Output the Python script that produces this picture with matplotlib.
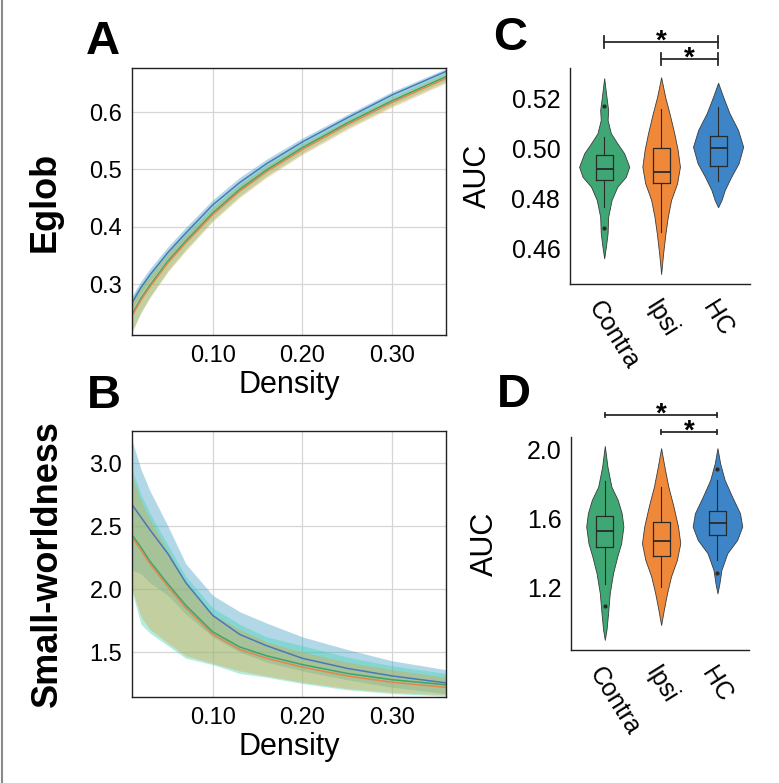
import matplotlib
matplotlib.use('Agg')
import matplotlib.pyplot as plt
import numpy as np
from matplotlib.lines import Line2D

plt.rcParams['font.family'] = ['Liberation Sans', 'DejaVu Sans']

# colours per group
groups = ['Contra', 'Ipsi', 'HC']
fill_colors = ['#3fa774', '#f0883a', '#3d85c6']
line_colors = ['#3aa66e', '#e8854a', '#4a78b8']
band_colors = ['#3fd4b4', '#d9a441', '#3f9fc4']

# ---- panel A / B curves (density vs metric) ----
density = [0.01, 0.02, 0.03, 0.05, 0.07, 0.10, 0.13, 0.16, 0.20, 0.25, 0.30, 0.36]

eglob_mean = {
    'Contra': [0.247, 0.275, 0.298, 0.340, 0.375, 0.424, 0.465, 0.499, 0.538, 0.581, 0.620, 0.662],
    'Ipsi':   [0.244, 0.272, 0.295, 0.337, 0.372, 0.421, 0.462, 0.496, 0.535, 0.578, 0.617, 0.659],
    'HC':     [0.267, 0.294, 0.316, 0.355, 0.389, 0.438, 0.477, 0.510, 0.548, 0.590, 0.630, 0.671],
}
eglob_sd = {
    'Contra': [0.030, 0.024, 0.020, 0.016, 0.014, 0.012, 0.011, 0.010, 0.009, 0.008, 0.008, 0.008],
    'Ipsi':   [0.028, 0.022, 0.019, 0.016, 0.014, 0.012, 0.011, 0.010, 0.009, 0.008, 0.008, 0.008],
    'HC':     [0.012, 0.011, 0.011, 0.010, 0.010, 0.009, 0.009, 0.008, 0.007, 0.006, 0.006, 0.005],
}

sw_mean = {
    'Contra': [2.43, 2.33, 2.22, 2.04, 1.87, 1.66, 1.54, 1.47, 1.40, 1.33, 1.28, 1.24],
    'Ipsi':   [2.41, 2.31, 2.20, 2.02, 1.85, 1.64, 1.52, 1.45, 1.38, 1.31, 1.26, 1.22],
    'HC':     [2.67, 2.57, 2.47, 2.28, 2.05, 1.79, 1.64, 1.55, 1.45, 1.37, 1.31, 1.255],
}
sw_upper = {
    'Contra': [2.95, 2.75, 2.60, 2.35, 2.10, 1.85, 1.72, 1.62, 1.55, 1.46, 1.39, 1.33],
    'Ipsi':   [2.90, 2.70, 2.55, 2.30, 2.05, 1.80, 1.68, 1.58, 1.50, 1.42, 1.36, 1.30],
    'HC':     [3.18, 2.95, 2.78, 2.50, 2.20, 1.95, 1.82, 1.73, 1.62, 1.52, 1.43, 1.36],
}
sw_lower = {
    'Contra': [1.98, 1.72, 1.65, 1.55, 1.45, 1.40, 1.33, 1.30, 1.25, 1.20, 1.17, 1.15],
    'Ipsi':   [2.00, 1.78, 1.68, 1.57, 1.47, 1.41, 1.35, 1.31, 1.26, 1.21, 1.18, 1.16],
    'HC':     [2.15, 2.12, 2.05, 1.95, 1.80, 1.62, 1.50, 1.42, 1.35, 1.28, 1.22, 1.17],
}

# ---- panel C / D violins: profile (value, half width) + box stats ----
c_prof_y = {
    'Contra': [0.4563, 0.4609, 0.4663, 0.4729, 0.4796, 0.4849, 0.4889, 0.4929, 0.4983, 0.5023, 0.5063, 0.5116, 0.5156, 0.5196, 0.5283],
    'Ipsi':   [0.4500, 0.4583, 0.4663, 0.4729, 0.4796, 0.4863, 0.4929, 0.4996, 0.5063, 0.5143, 0.5209, 0.5287],
    'HC':     [0.4767, 0.4796, 0.4836, 0.4889, 0.4943, 0.5009, 0.5076, 0.5143, 0.5209, 0.5265],
}
c_prof_w = {
    'Contra': [0.0, 0.03, 0.06, 0.07, 0.13, 0.23, 0.38, 0.44, 0.35, 0.23, 0.117, 0.06, 0.07, 0.047, 0.0],
    'Ipsi':   [0.0, 0.035, 0.076, 0.117, 0.175, 0.28, 0.33, 0.29, 0.23, 0.146, 0.07, 0.0],
    'HC':     [0.0, 0.06, 0.117, 0.23, 0.36, 0.44, 0.35, 0.20, 0.088, 0.0],
}
c_box = {
    'Contra': dict(med=0.492, q1=0.4875, q3=0.4975, whislo=0.4768, whishi=0.5048, fliers=[0.4684, 0.5172]),
    'Ipsi':   dict(med=0.4908, q1=0.4864, q3=0.5004, whislo=0.4668, whishi=0.5160, fliers=[]),
    'HC':     dict(med=0.5004, q1=0.4932, q3=0.5052, whislo=0.4872, whishi=0.5168, fliers=[]),
}

d_prof_y = {
    'Contra': [0.899, 0.957, 1.053, 1.169, 1.285, 1.381, 1.459, 1.556, 1.633, 1.710, 1.787, 1.903, 2.023],
    'Ipsi':   [0.985, 1.072, 1.169, 1.266, 1.362, 1.459, 1.556, 1.671, 1.787, 1.903, 2.010],
    'HC':     [1.169, 1.227, 1.304, 1.401, 1.478, 1.556, 1.633, 1.729, 1.826, 1.923, 2.010],
}
d_prof_w = {
    'Contra': [0.0, 0.03, 0.058, 0.088, 0.146, 0.22, 0.29, 0.33, 0.30, 0.23, 0.117, 0.047, 0.0],
    'Ipsi':   [0.0, 0.047, 0.105, 0.175, 0.28, 0.34, 0.30, 0.22, 0.128, 0.058, 0.0],
    'HC':     [0.0, 0.035, 0.07, 0.175, 0.35, 0.44, 0.40, 0.26, 0.128, 0.047, 0.0],
}
d_box = {
    'Contra': dict(med=1.532, q1=1.440, q3=1.617, whislo=1.223, whishi=1.822, fliers=[1.096]),
    'Ipsi':   dict(med=1.472, q1=1.387, q3=1.585, whislo=1.208, whishi=1.787, fliers=[]),
    'HC':     dict(med=1.579, q1=1.507, q3=1.646, whislo=1.362, whishi=1.826, fliers=[1.289, 1.890]),
}

W, H = 779, 783
fig = plt.figure(figsize=(W / 100, H / 100), dpi=100)


def px_axes(left, top, right, bottom):
    return fig.add_axes([left / W, 1 - bottom / H, (right - left) / W, (bottom - top) / H])


def curve_panel(ax, lower, upper, mean, ylim, yticks, ylabel, label_x):
    order = ['HC', 'Contra', 'Ipsi']
    for g in order:
        i = groups.index(g)
        ax.fill_between(density, lower[g], upper[g], color=band_colors[i], alpha=0.4, lw=0)
    for g in order:
        i = groups.index(g)
        ax.plot(density, mean[g], color=line_colors[i], lw=1.1)
    ax.set_xlim(0.01, 0.36)
    ax.set_ylim(*ylim)
    ax.set_xticks([0.10, 0.20, 0.30])
    ax.set_xticklabels(['0.10', '0.20', '0.30'])
    ax.set_yticks(yticks)
    ax.grid(True, color='#d6d6d6', lw=0.9)
    ax.set_axisbelow(True)
    ax.tick_params(length=0, labelsize=17, pad=7)
    for s in ax.spines.values():
        s.set_color('#222222')
        s.set_linewidth(1.0)
    ax.set_xlabel('Density', fontsize=22, labelpad=2)
    ax.set_ylabel(ylabel, fontsize=26, fontweight='bold')
    ax.yaxis.set_label_coords(label_x, 0.5)


# A
axA = px_axes(132, 68, 446, 335)
a_lo = {g: np.array(eglob_mean[g]) - np.array(eglob_sd[g]) for g in groups}
a_hi = {g: np.array(eglob_mean[g]) + np.array(eglob_sd[g]) for g in groups}
curve_panel(axA, a_lo, a_hi, eglob_mean, (0.211, 0.677), [0.3, 0.4, 0.5, 0.6], 'Eglob', -0.22)
axA.set_yticklabels(['0.3', '0.4', '0.5', '0.6'])

# B
axB = px_axes(132, 431, 446, 697)
curve_panel(axB, sw_lower, sw_upper, sw_mean, (1.143, 3.254), [1.5, 2.0, 2.5, 3.0], 'Small-worldness', -0.213)


def violin_panel(ax, prof_y, prof_w, box, ylim, yticks, yticklabels, bars, cap, label_x):
    stats = []
    for i, g in enumerate(groups):
        y = np.array(prof_y[g])
        w = np.array(prof_w[g])
        ax.fill_betweenx(y, i - w, i + w, facecolor=fill_colors[i], edgecolor='#3a3a3a', lw=0.6, zorder=1)
        st = dict(box[g])
        st['label'] = g
        stats.append(st)
    ax.bxp(stats, positions=[0, 1, 2], widths=0.3, showcaps=False, patch_artist=False,
           boxprops=dict(color='#2a2a2a', lw=0.9),
           medianprops=dict(color='#2a2a2a', lw=1.3),
           whiskerprops=dict(color='#2a2a2a', lw=0.8),
           flierprops=dict(marker='o', markersize=2, markerfacecolor='#2a2a2a', markeredgecolor='#2a2a2a'),
           zorder=2)
    ax.set_xlim(-0.6, 2.56)
    ax.set_ylim(*ylim)
    ax.set_yticks(yticks)
    ax.set_yticklabels(yticklabels)
    ax.set_xticks([0, 1, 2])
    ax.set_xticklabels(groups, rotation=-58, ha='left', va='top', rotation_mode='anchor')
    ax.tick_params(length=0, labelsize=18, pad=7)
    ax.tick_params(axis='x', pad=9)
    for side in ['top', 'right']:
        ax.spines[side].set_visible(False)
    for side in ['left', 'bottom']:
        ax.spines[side].set_color('#222222')
        ax.spines[side].set_linewidth(1.0)
    ax.set_ylabel('AUC', fontsize=22)
    ax.yaxis.set_label_coords(label_x, 0.5)
    for x1, x2, yb in bars:
        ax.plot([x1, x2], [yb, yb], color='#2a2a2a', lw=1.3, clip_on=False)
        ax.plot([x1, x1], [yb - cap, yb + cap], color='#2a2a2a', lw=1.3, clip_on=False)
        ax.plot([x2, x2], [yb - cap, yb + cap], color='#2a2a2a', lw=1.3, clip_on=False)
        ax.annotate('*', xy=((x1 + x2) / 2, yb), xytext=(0, -5), textcoords='offset points',
                    ha='center', va='baseline', fontsize=20, fontweight='bold', annotation_clip=False)


# C
axC = px_axes(570, 68, 750, 284)
violin_panel(axC, c_prof_y, c_prof_w, c_box, (0.446, 0.5324), [0.46, 0.48, 0.50, 0.52],
             ['0.46', '0.48', '0.50', '0.52'], [(0, 2, 0.5428), (1, 2, 0.536)], 0.0024, -0.43)

# D
axD = px_axes(571, 437, 749, 650)
violin_panel(axD, d_prof_y, d_prof_w, d_box, (0.84, 2.075), [1.2, 1.6, 2.0],
             ['1.2', '1.6', '2.0'], [(0, 2, 2.2025), (1, 2, 2.104)], 0.014, -0.40)

# panel letters
for letter, x, y in [('A', 86, 54), ('B', 87, 408), ('C', 493, 50), ('D', 497, 407)]:
    fig.text(x / W, 1 - y / H, letter, fontsize=34, fontweight='bold', ha='left', va='baseline')

# grey frame line on the left edge
fig.add_artist(Line2D([0.002, 0.002], [0, 1], color='#8a8a8a', lw=1.5, transform=fig.transFigure))

fig.savefig('out.png', dpi=100)
